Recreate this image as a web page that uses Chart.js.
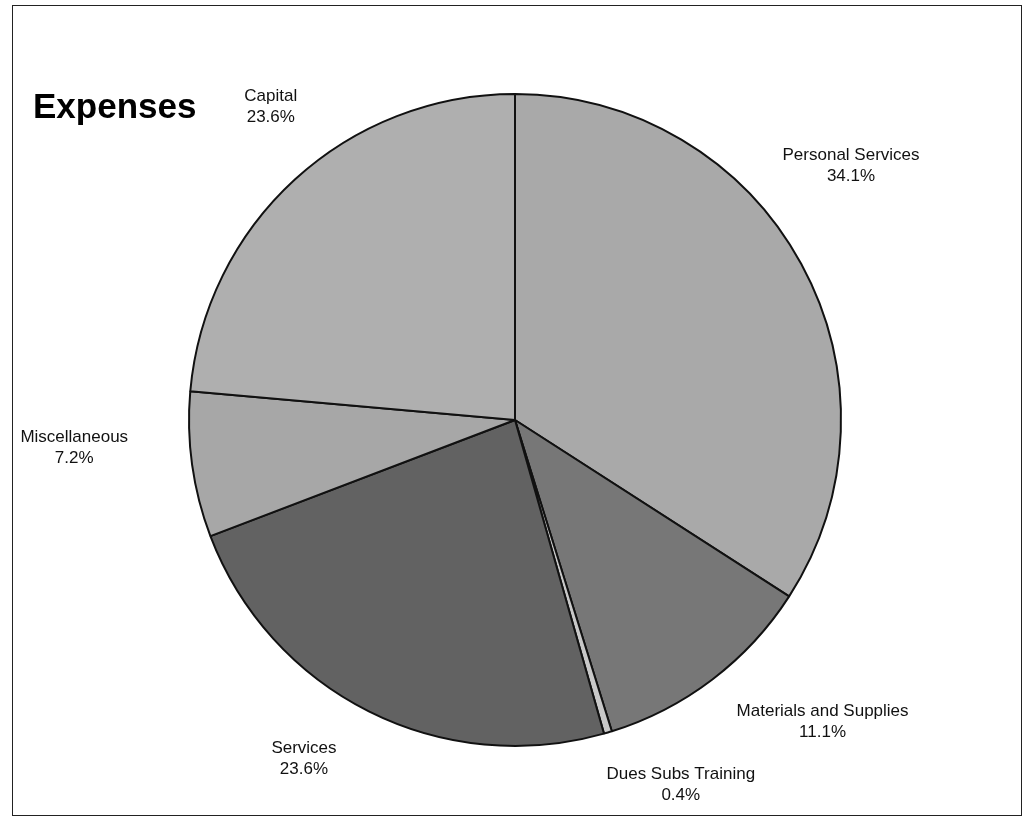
<!DOCTYPE html>
<html>
<head>
<meta charset="utf-8">
<script src="https://cdn.jsdelivr.net/npm/chart.js@4/dist/chart.umd.min.js"></script>
<style>
  body { margin: 0; background: #fff; }
  #wrap { position: relative; width: 1026px; height: 825px; }
  #frame { position: absolute; left: 12px; top: 5px; width: 1010px; height: 811px; border: 1px solid #222; box-sizing: border-box; pointer-events: none; }
  #title { position: absolute; left: 33px; top: 86px; font: bold 35px "Liberation Sans", Arial, sans-serif; color: #000; margin: 0; }
</style>
</head>
<body>
<div id="wrap">
  <canvas id="chart" width="1026" height="825"></canvas>
  <div id="frame"></div>
  <h1 id="title">Expenses</h1>
</div>
<script>
const categories = ["Personal Services", "Materials and Supplies", "Dues Subs Training", "Services", "Miscellaneous", "Capital"];
const percents = [34.1, 11.1, 0.4, 23.6, 7.2, 23.6];
const sliceColors = ["#a9a9a9", "#777777", "#c8c8c8", "#626262", "#a7a7a7", "#afafaf"];
// nudge for each label from a point at 1.3 x radius along the slice mid-angle
const labelNudge = [[-36, -52], [51, -36], [45, -42], [-21, -40], [-21, -31], [42, -1]];

const outsideLabels = {
  id: "outsideLabels",
  afterDatasetsDraw(chart) {
    const ctx = chart.ctx;
    const arcs = chart.getDatasetMeta(0).data;
    ctx.save();
    ctx.font = '17px "Liberation Sans", Arial, sans-serif';
    ctx.fillStyle = "#111";
    ctx.textAlign = "center";
    ctx.textBaseline = "middle";
    arcs.forEach((arc, i) => {
      const mid = (arc.startAngle + arc.endAngle) / 2;
      const r = arc.outerRadius * 1.3;
      const x = arc.x + Math.cos(mid) * r + labelNudge[i][0];
      const y = arc.y + Math.sin(mid) * r + labelNudge[i][1];
      ctx.fillText(categories[i], x, y - 10);
      ctx.fillText(percents[i].toFixed(1) + "%", x, y + 11);
    });
    ctx.restore();
  }
};

new Chart(document.getElementById("chart"), {
  type: "pie",
  data: {
    labels: categories,
    datasets: [{
      data: percents,
      backgroundColor: sliceColors,
      borderColor: "#111",
      borderWidth: 2
    }]
  },
  options: {
    responsive: false,
    animation: false,
    layout: { padding: { left: 188, right: 184, top: 93, bottom: 78 } },
    plugins: {
      legend: { display: false },
      tooltip: { enabled: false }
    }
  },
  plugins: [outsideLabels]
});
</script>
</body>
</html>
